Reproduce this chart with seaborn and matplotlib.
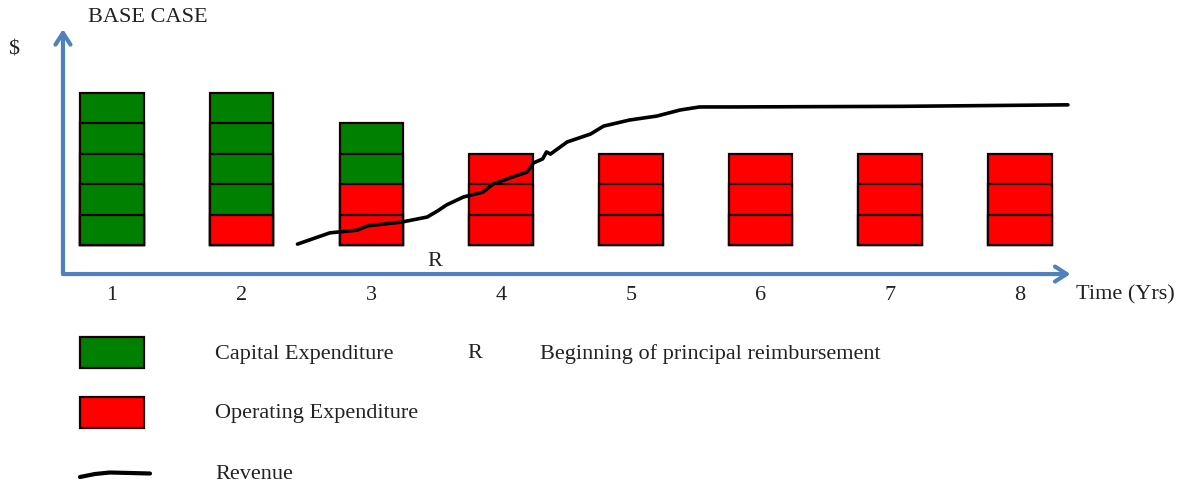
import matplotlib
matplotlib.use("Agg")
import matplotlib.pyplot as plt
from matplotlib.patches import Rectangle
from matplotlib.lines import Line2D
import pandas as pd
import seaborn as sns

sns.set_theme(style="white")
plt.rcParams['font.family'] = ['Liberation Serif', 'DejaVu Serif']

# number of capex / opex blocks per year (opex stacked at the bottom)
years = [1, 2, 3, 4, 5, 6, 7, 8]
capex_blocks = [5, 4, 2, 0, 0, 0, 0, 0]
opex_blocks = [0, 1, 2, 3, 3, 3, 3, 3]

# revenue curve (year, height in block units)
rev_x = [2.43, 2.68, 2.89, 2.97, 3.24, 3.43, 3.51, 3.58, 3.71, 3.86, 3.94,
         4.09, 4.20, 4.25, 4.32, 4.35, 4.38, 4.51, 4.69, 4.79, 4.99, 5.20,
         5.38, 5.53, 5.77, 7.08, 8.37]
rev_y = [0.03, 0.40, 0.49, 0.63, 0.76, 0.92, 1.12, 1.32, 1.58, 1.74, 2.01,
         2.24, 2.40, 2.70, 2.83, 3.06, 2.99, 3.39, 3.65, 3.91, 4.11, 4.24,
         4.44, 4.54, 4.54, 4.56, 4.61]

GREEN = "#008000"
RED = "#ff0000"
BLUE = "#4f81bd"
palette = {"Capital Expenditure": GREEN, "Operating Expenditure": RED}

# one row per block, "top" is the cumulative height of that block
rows = []
for yr, cap, op in zip(years, capex_blocks, opex_blocks):
    for k in range(op):
        rows.append((yr, k + 1, "Operating Expenditure"))
    for k in range(cap):
        rows.append((yr, op + k + 1, "Capital Expenditure"))
blocks = pd.DataFrame(rows, columns=["year", "top", "kind"])

fig = plt.figure(figsize=(11.88, 4.89), dpi=100)
ax = fig.add_axes([0, 0, 1, 1])

# draw tallest first, shorter on top -> stacked unit blocks
for level in sorted(blocks["top"].unique(), reverse=True):
    sub = blocks[blocks["top"] == level]
    sns.barplot(data=sub, x="year", y="top", hue="kind", palette=palette,
                native_scale=True, dodge=False, width=0.49, saturation=1,
                edgecolor="#1a0000", linewidth=1.6, errorbar=None,
                legend=False, ax=ax)

sns.lineplot(x=rev_x, y=rev_y, color="black", lw=2.6, ax=ax, sort=False,
             solid_joinstyle="round", solid_capstyle="round")

ax.set_xlim(0.1365, 9.296)
ax.set_ylim(-7.99, 8.09)
ax.axis("off")

# axes arrows
x0, y0 = 0.622, -0.954
arrow = dict(arrowstyle="->,head_length=0.7,head_width=0.45", color=BLUE,
             lw=3, shrinkA=0, shrinkB=0)
ax.annotate("", xy=(8.39, y0), xytext=(x0, y0), arrowprops=arrow)
ax.annotate("", xy=(x0, 7.1), xytext=(x0, y0), arrowprops=arrow)

fs = 16
txt = "#222222"
for yr in years:
    ax.text(yr, -1.62, str(yr), ha="center", va="center", fontsize=fs, color=txt)
ax.text(8.43, -1.62, "Time (Yrs)", ha="left", va="center", fontsize=fs, color=txt)
ax.text(3.49, -0.5, "R", ha="center", va="center", fontsize=fs, color=txt)


def fx(px):
    return px / 1188


def fy(py):
    return 1 - py / 489


fig.text(fx(88), fy(18), "BASE CASE", ha="left", va="center", fontsize=fs, color=txt)
fig.text(fx(14), fy(50), "$", ha="center", va="center", fontsize=fs, color=txt)

# legend
fig.patches.append(Rectangle((fx(80), fy(369)), fx(64), 31 / 489, transform=fig.transFigure,
                             facecolor=GREEN, edgecolor="#1a0000", lw=1.6))
fig.patches.append(Rectangle((fx(80), fy(429)), fx(64), 31 / 489, transform=fig.transFigure,
                             facecolor=RED, edgecolor="#1a0000", lw=1.6))
fig.lines.append(Line2D([fx(80), fx(95), fx(110), fx(130), fx(150)],
                        [fy(478), fy(475), fy(473.5), fy(474), fy(474.5)],
                        transform=fig.transFigure, color="black", lw=3,
                        solid_joinstyle="round"))
fig.text(fx(215), fy(354), "Capital Expenditure", ha="left", va="center", fontsize=fs, color=txt)
fig.text(fx(215), fy(414), "Operating Expenditure", ha="left", va="center", fontsize=fs, color=txt)
fig.text(fx(215), fy(475), "Revenue", ha="left", va="center", fontsize=fs, color=txt)
fig.text(fx(467), fy(354), "R", ha="left", va="center", fontsize=fs, color=txt)
fig.text(fx(540), fy(354), "Beginning of principal reimbursement", ha="left", va="center",
         fontsize=fs, color=txt)

fig.savefig("out.png", dpi=100)
